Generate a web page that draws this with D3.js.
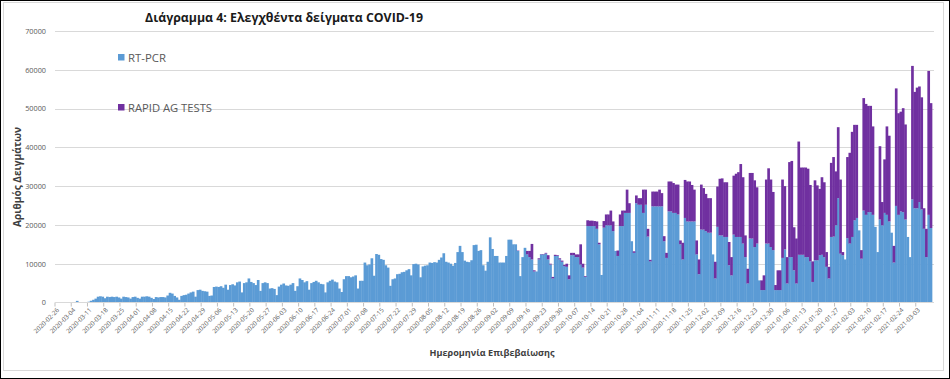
<!DOCTYPE html>
<html><head><meta charset="utf-8">
<script src="https://cdn.jsdelivr.net/npm/d3@7/dist/d3.min.js"></script>
<style>
html,body{margin:0;padding:0;background:#fff;}
svg{display:block;font-family:"Open Sans","Noto Sans",sans-serif;}
</style></head>
<body><svg id="chart" width="950" height="379"></svg>
<script>
// ---------- DATA ----------
const startDate = "2020-02-26";
const title = "Διάγραμμα 4: Ελεγχθέντα  δείγματα COVID-19";
const yTitle = "Αριθμός Δειγμάτων";
const xTitle = "Ημερομηνία Επιβεβαίωσης";
const seriesNames = ["RT-PCR", "RAPID AG TESTS"];
const yTicks = [0,10000,20000,30000,40000,50000,60000,70000];
const xTickLabels = ["2020-02-26","2020-03-04","2020-03-11","2020-03-18","2020-03-25","2020-04-01","2020-04-08","2020-04-15","2020-04-22","2020-04-29","2020-05-06","2020-05-13","2020-05-20","2020-05-27","2020-06-03","2020-06-10","2020-06-17","2020-06-24","2020-07-01","2020-07-08","2020-07-15","2020-07-22","2020-07-29","2020-08-05","2020-08-12","2020-08-19","2020-08-26","2020-09-02","2020-09-09","2020-09-16","2020-09-23","2020-09-30","2020-10-07","2020-10-14","2020-10-21","2020-10-28","2020-11-04","2020-11-11","2020-11-18","2020-11-25","2020-12-02","2020-12-09","2020-12-16","2020-12-23","2020-12-30","2021-01-06","2021-01-13","2021-01-20","2021-01-27","2021-02-03","2021-02-10","2021-02-17","2021-02-24","2021-03-03"];

// daily RT-PCR samples (one row per week, Wed..Tue)
const rtpcr = [
0,0,0,0,0,0,0,
0,0,420,0,0,0,100,
200,450,700,1000,1500,1600,1500,
1100,1500,1400,1500,1400,1500,1300,
1000,1500,1400,1300,1000,1400,1500,
1200,1000,1500,1500,1600,1500,1200,
900,1400,1300,1400,1400,1300,1800,
2500,2300,1700,1300,700,1700,1900,
2000,2300,2600,2800,1500,3200,3300,
3000,2900,2800,1700,1800,4000,4100,
4000,4200,3800,4600,3300,4500,4700,
4400,5200,5400,2600,5000,5200,6200,
5300,5000,4500,5800,3000,5000,5200,
5000,3600,3700,3500,1900,4100,4600,
4900,4400,4300,4600,5000,3000,4200,
6200,5800,5200,5500,3300,5000,5300,
5600,5200,4800,4700,2600,5200,5600,
5900,5400,5200,3600,2700,6000,6800,
6800,6500,6700,7000,3600,5600,5600,
10300,9600,9800,11400,6900,12500,12300,
11200,11000,9600,9000,4300,6000,6200,
7300,7400,7800,7900,8300,8600,7000,
9900,10000,9800,6500,9300,9500,9600,
10300,10200,10400,10300,11000,11600,12700,
10500,10300,10000,9500,10200,13000,14600,
13000,10800,10500,10400,10900,14800,14900,
13300,13500,9600,8200,10500,16800,13800,
12000,12000,10300,10300,10300,12000,16200,
16200,15000,15000,13300,6800,11700,14100,
12400,11700,11100,8000,8000,11100,12400,
12400,12600,11100,9800,6200,12000,12000,
11100,10500,9400,9200,6000,12200,12200,
11700,11700,9800,9000,6600,19700,19700,
19700,19700,19000,15000,7100,19300,19900,
19900,19900,18400,13300,12000,19700,19700,
23100,23100,23100,15800,12800,25600,25200,
25200,23100,25200,17000,10600,24800,24800,
24800,24800,24800,15800,11500,23500,23500,
23100,23100,22700,15000,11100,21800,20900,
20900,20900,20900,12400,7300,18800,18800,
18400,18000,18000,12400,6200,19500,17300,
17300,16900,16900,9600,7000,17500,16900,
16900,16900,15200,11700,4900,16500,16500,
14300,15200,5700,3200,3200,15200,15200,
14300,13500,3200,3200,3200,11500,13700,
4900,11700,11700,8300,4900,12300,12300,
12300,11700,11700,10600,5300,10900,10900,
12200,12300,11700,9200,6200,16900,17000,
19900,26900,12600,12200,11100,16600,15200,
16900,21200,21800,18600,11300,23700,22600,
23300,23300,22600,19500,13000,21400,19900,
23100,22600,20900,18000,10300,24900,22600,
23500,23300,21400,16900,11700,26600,24300,
24300,25900,24000,19000,11700,22600,19200
];

// daily rapid antigen tests (one row per week, Wed..Tue)
const rapid = [
0,0,0,0,0,0,0, 0,0,0,0,0,0,0, 0,0,0,0,0,0,0, 0,0,0,0,0,0,0,
0,0,0,0,0,0,0, 0,0,0,0,0,0,0, 0,0,0,0,0,0,0, 0,0,0,0,0,0,0,
0,0,0,0,0,0,0, 0,0,0,0,0,0,0, 0,0,0,0,0,0,0, 0,0,0,0,0,0,0,
0,0,0,0,0,0,0, 0,0,0,0,0,0,0, 0,0,0,0,0,0,0, 0,0,0,0,0,0,0,
0,0,0,0,0,0,0, 0,0,0,0,0,0,0, 0,0,0,0,0,0,0, 0,0,0,0,0,0,0,
0,0,0,0,0,0,0, 0,0,0,0,0,0,0, 0,0,0,0,0,0,0, 0,0,0,0,0,0,0,
0,0,0,0,0,0,0, 0,0,0,0,0,0,0, 0,0,0,0,0,0,0, 0,0,0,0,0,0,0,
0,0,0,100,0,0,0,
900,1600,4000,300,0,300,100,
100,200,1100,200,400,300,200,
300,300,300,800,1000,600,600,
700,700,5200,1000,200,1500,1400,
1400,1300,1900,400,0,1700,2800,
2800,3800,2500,0,1400,3000,4000,
600,6000,2500,0,400,2000,1700,
1700,6000,3900,2000,400,3800,3800,
3800,4300,3400,1300,1300,7700,7700,
7700,7300,7700,1000,4300,9800,10300,
10300,9400,8200,3600,3800,11600,10700,
9600,8900,8900,0,4300,10400,14600,
14700,14100,14100,6000,4700,15200,16300,
16700,18800,17100,5600,3800,16900,16900,
17200,14500,0,2500,3800,16500,19400,
17400,15000,1300,5100,5100,20200,16300,
6800,24500,24800,11100,11600,29200,22500,
22500,23100,22800,19700,5300,20600,19300,
17100,20000,19300,3800,3000,19100,20500,
13900,18300,19100,800,0,20900,23400,
27100,24600,24000,0,2200,29000,28600,
27400,27400,22800,0,0,18900,6000,
13800,22800,22100,0,4300,30300,26200,
25700,26800,24500,0,0,34400,30000,
31100,29800,28900,5300,7300,37100,32200
];

// ---------- CHART ----------
const W = 950, H = 379;
const svg = d3.select("#chart");
const colors = ["#5B9BD5", "#7030A0"];
const textGray = "#595959";

svg.append("rect").attr("x",0).attr("y",0).attr("width",W).attr("height",H).attr("fill","#fff");

const parse = d3.timeParse("%Y-%m-%d");
const days = d3.timeDay.range(parse(startDate), d3.timeDay.offset(parse(startDate), rtpcr.length));
const fmt = d3.timeFormat("%Y-%m-%d");
const data = days.map((d,i)=>({date: fmt(d), rt: rtpcr[i], ag: rapid[i] || 0}));

const x = d3.scaleBand().domain(data.map(d=>d.date)).range([55, 932]).padding(0);
const y = d3.scaleLinear().domain([0, 70000]).range([302.5, 31]);

// gridlines
svg.append("g").selectAll("line").data(yTicks.filter(t=>t>0)).join("line")
  .attr("x1",55).attr("x2",934).attr("y1",d=>Math.round(y(d))+0.5).attr("y2",d=>Math.round(y(d))+0.5)
  .attr("stroke","#d9d9d9").attr("stroke-width",1);

// stacked bars
const stack = d3.stack().keys(["rt","ag"])(data);
const bw = x.bandwidth();
svg.append("g").selectAll("g").data(stack).join("g").attr("fill",(d,i)=>colors[i])
  .selectAll("rect").data(d=>d.filter(v=>v[1]-v[0]>0)).join("rect")
  .attr("x",d=>x(d.data.date)).attr("width",bw+0.35)
  .attr("y",d=>y(d[1])).attr("height",d=>y(d[0])-y(d[1]));

// x axis baseline & ticks
const xAxis = d3.axisBottom(x).tickValues(xTickLabels).tickSize(4).tickFormat("");
const gx = svg.append("g").attr("transform",`translate(${-bw/2},302.5)`).call(xAxis);
gx.select(".domain").remove();
gx.selectAll(".tick line").attr("stroke","#bfbfbf");
svg.append("line").attr("x1",55).attr("x2",934).attr("y1",302.5).attr("y2",302.5).attr("stroke","#d9d9d9");

// x tick labels
svg.append("g").selectAll("text").data(xTickLabels).join("text")
  .attr("transform",d=>`translate(${x(d)+3},309) rotate(-45)`)
  .attr("text-anchor","end").attr("dy","0.35em")
  .attr("font-size","6.3px").attr("fill",textGray).text(d=>d);

// y axis labels
const yAxis = d3.axisLeft(y).tickValues(yTicks).tickSize(0).tickFormat(d3.format("d"));
const gy = svg.append("g").attr("transform","translate(49,0)").call(yAxis);
gy.select(".domain").remove();
gy.selectAll("text").attr("font-size","7.3px").attr("fill",textGray).attr("font-family","'Open Sans',sans-serif");

// fit helper
function fit(sel, target){
  const n = sel.node(); let fs = parseFloat(sel.attr("font-size"));
  const w = n.getComputedTextLength();
  sel.attr("font-size", (fs*target/w).toFixed(2)+"px");
}

// title
const t = svg.append("text").attr("x",284).attr("y",22).attr("text-anchor","middle")
  .attr("font-weight","bold").attr("font-size","14px").attr("fill","#1a1a1a").text(title);
fit(t, 278);

// axis titles
const yt = svg.append("text").attr("transform","translate(21,177) rotate(-90)").attr("text-anchor","middle")
  .attr("font-weight","bold").attr("font-size","10px").attr("fill","#404040").text(yTitle);
fit(yt, 100);
const xt = svg.append("text").attr("x",492).attr("y",356).attr("text-anchor","middle")
  .attr("font-weight","bold").attr("font-size","9px").attr("fill","#404040").text(xTitle);
fit(xt, 125);

// legend
const legY = [54, 104];
seriesNames.forEach((name,i)=>{
  svg.append("rect").attr("x",118).attr("y",legY[i]).attr("width",6.5).attr("height",6.5).attr("fill",colors[i]);
  const lt = svg.append("text").attr("x",128).attr("y",legY[i]+8).attr("font-size","10.5px").attr("fill",textGray).text(name);
  fit(lt, i===0?38:84);
});

// frame
svg.append("rect").attr("x",0.5).attr("y",0.5).attr("width",W-1).attr("height",H-1).attr("fill","none").attr("stroke","#000").attr("stroke-width",1);
svg.append("rect").attr("x",3.5).attr("y",2.5).attr("width",940).attr("height",368).attr("fill","none").attr("stroke","#d9d9d9").attr("stroke-width",1);
</script></body></html>
